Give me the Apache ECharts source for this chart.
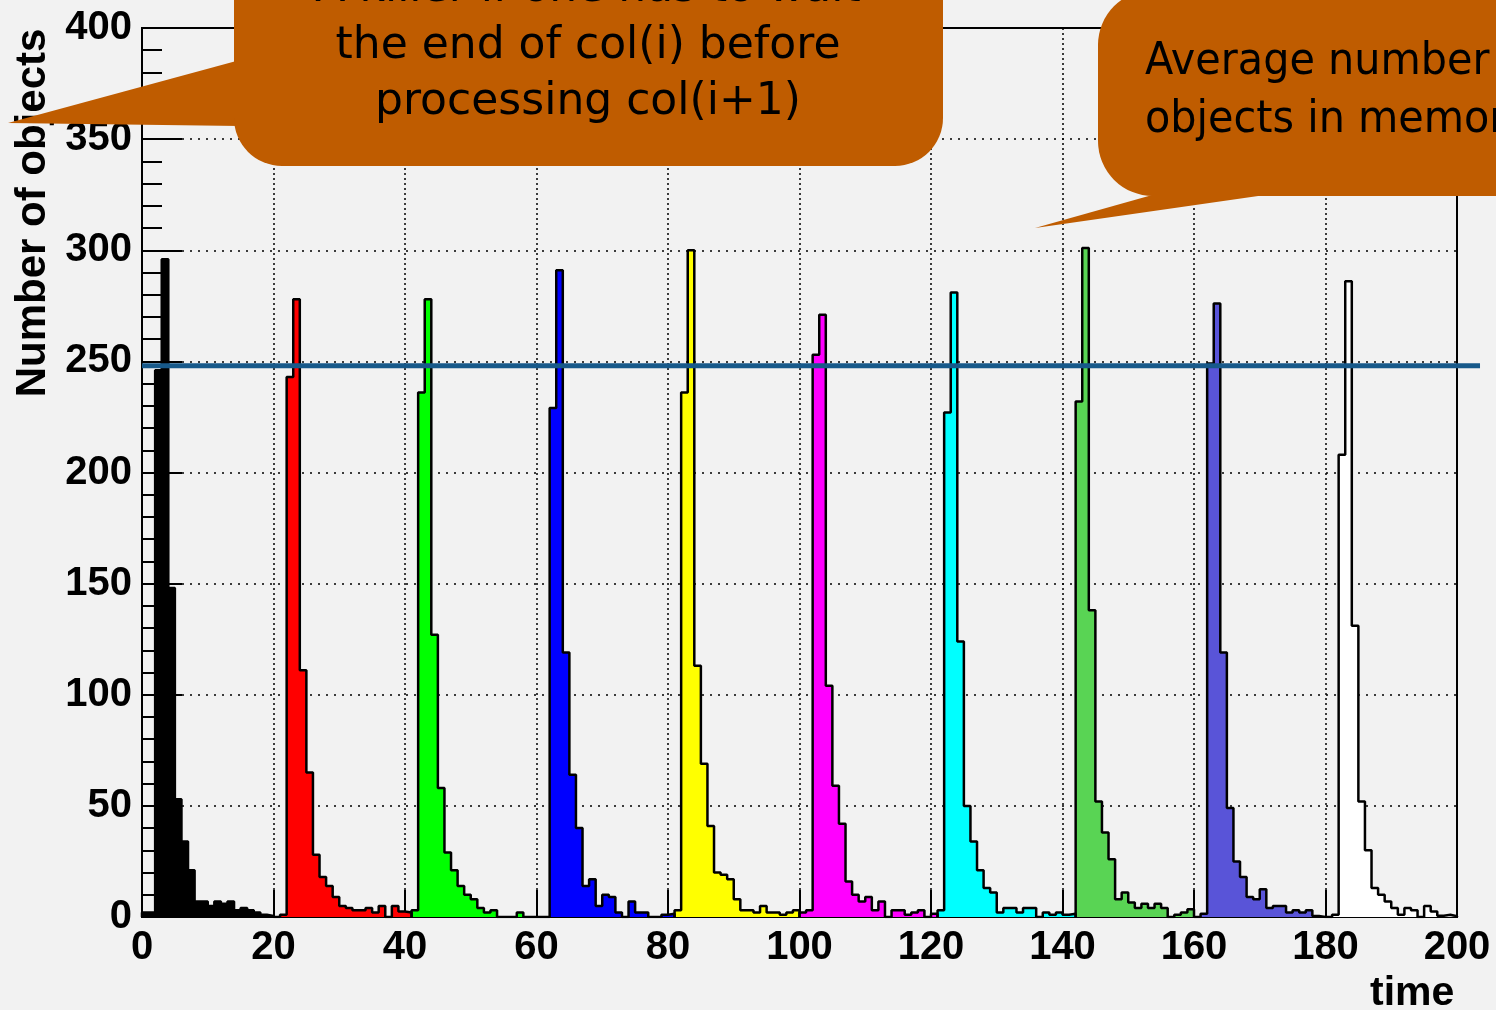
<!DOCTYPE html>
<html>
<head>
<meta charset="utf-8">
<script src="https://cdn.jsdelivr.net/npm/echarts@6/dist/echarts.min.js"></script>
<style>
html,body{margin:0;padding:0;background:#f2f2f2;}
#chart{width:1496px;height:1010px;}
</style>
</head>
<body>
<div id="chart"></div>
<script>
// ---- data ----
const xTicks = [0, 20, 40, 60, 80, 100, 120, 140, 160, 180, 200];
const yTicks = [0, 50, 100, 150, 200, 250, 300, 350, 400];
const averageLevel = 248;
const averageLineEnd = 203.5;

const seriesNames = ['col0', 'col1', 'col2', 'col3', 'col4', 'col5', 'col6', 'col7', 'col8', 'col9'];
const binStarts = [0, 20, 41, 60, 81, 100, 121, 142, 160, 180];

const blackCounts   = [2, 2, 246, 296, 148, 53, 34, 21, 7, 7, 5, 7, 6, 7, 3, 4, 3, 2, 1, 0.5];
const redCounts     = [0, 1, 243, 278, 111, 65, 28, 18, 14, 9, 5, 4, 3, 3, 4, 2, 5, 0, 5, 2.5, 2];
const greenCounts   = [3, 236, 278, 127, 58, 29, 21, 14, 10, 8, 4, 2, 3, 0, 0, 0, 2, 0, 0];
const blueCounts    = [0, 0, 229, 291, 119, 64, 40, 14, 17, 5, 10, 9, 2, 0, 7, 2, 2, 0, 0, 1, 1.5];
const yellowCounts  = [3, 236, 300, 113, 69, 41, 20, 19, 17, 8, 3, 3, 2, 5, 2, 2, 1, 2, 3];
const magentaCounts = [2, 3, 253, 271, 104, 59, 42, 16, 10, 7, 9, 3, 7, 0, 3, 3, 1, 2, 3, 0, 1.5];
const cyanCounts    = [3, 227, 281, 124, 50, 34, 21, 13, 11, 2, 4, 4, 2, 4, 4, 0, 2, 1, 2, 1, 1.5];
const green2Counts  = [232, 301, 138, 52, 38, 26, 8, 11, 6.5, 4, 6, 4, 6, 4, 0, 1, 2, 3.5];
const purpleCounts  = [0, 1.5, 249, 276, 119, 49, 25, 18, 9, 8, 12.5, 4, 5, 5, 2, 3, 2, 3, 0.5, 0];
const whiteCounts   = [0, 1, 208, 286, 131, 52, 30, 13, 10, 7, 4, 1, 4, 3, 0, 5, 2.5, 0.6, 1, 0.4];

const allCounts = [blackCounts, redCounts, greenCounts, blueCounts, yellowCounts,
                   magentaCounts, cyanCounts, green2Counts, purpleCounts, whiteCounts];
const fillColors = ['#000000', '#ff0000', '#00ff00', '#0000ff', '#ffff00',
                    '#ff00ff', '#00ffff', '#59d454', '#5954d8', '#ffffff'];

const calloutLeft = ['A killer if one has to wait', 'the end of col(i) before', 'processing col(i+1)'];
const calloutRight = ['Average number of', 'objects in memory'];

// ---- build histogram step outlines (bin width 1) ----
function histPoints(start, counts) {
  const pts = [[start, 0]];
  counts.forEach((v, i) => pts.push([start + i, v]));
  pts.push([start + counts.length, 0]);
  return pts;
}

const chart = echarts.init(document.getElementById('chart'), null, {renderer: 'canvas'});

const series = allCounts.map((counts, i) => ({
  name: seriesNames[i],
  type: 'line',
  step: 'end',
  data: histPoints(binStarts[i], counts),
  showSymbol: false,
  symbol: 'none',
  lineStyle: {color: '#000', width: 2.5},
  areaStyle: {color: fillColors[i], opacity: 1},
  animation: false,
  z: 3
}));

const labelFont = {fontFamily: 'Liberation Sans', fontWeight: 'bold', fontSize: 40, color: '#000'};

chart.setOption({
  backgroundColor: '#f2f2f2',
  animation: false,
  grid: {left: 142, right: 39, top: 28, bottom: 93, show: true, borderColor: '#000', borderWidth: 2, backgroundColor: 'transparent'},
  xAxis: {
    type: 'value', min: xTicks[0], max: xTicks[xTicks.length - 1], interval: 20,
    axisLine: {show: true, onZero: false, lineStyle: {color: '#000', width: 2}},
    axisTick: {show: true, inside: true, length: 27, lineStyle: {color: '#000', width: 2}},
    axisLabel: Object.assign({margin: 11, showMinLabel: true, showMaxLabel: true}, labelFont),
    splitLine: {show: true, lineStyle: {color: '#000', width: 1.5, type: [2, 3]}}
  },
  yAxis: {
    type: 'value', min: yTicks[0], max: yTicks[yTicks.length - 1], interval: 50,
    axisLine: {show: true, onZero: false, lineStyle: {color: '#000', width: 2}},
    axisTick: {show: true, inside: true, length: 40, lineStyle: {color: '#000', width: 2}},
    minorTick: {show: true, splitNumber: 5, length: 20, lineStyle: {color: '#000', width: 2}},
    axisLabel: Object.assign({margin: 10}, labelFont),
    splitLine: {show: true, lineStyle: {color: '#000', width: 1.5, type: [2, 6]}}
  },
  series: series
});

// average line, positioned through the chart's own scales
const p0 = chart.convertToPixel({gridIndex: 0}, [0, averageLevel]);
const p1 = chart.convertToPixel({gridIndex: 0}, [averageLineEnd, averageLevel]);

const bubbleColor = '#bf5c00';
const bubbleFont = 'DejaVu Sans';

chart.setOption({
  graphic: [
    {type: 'line', shape: {x1: p0[0], y1: p0[1], x2: p1[0], y2: p1[1]},
     style: {stroke: '#17598a', lineWidth: 5}, z: 50},
    {type: 'text', left: 1370, top: 973, style: {text: 'time', font: 'bold 41px "Liberation Sans"', fill: '#000'}, z: 50},
    {type: 'text', x: 33, y: 213, rotation: Math.PI / 2,
     style: {text: 'Number of objects', font: 'bold 42px "Liberation Sans"', fill: '#000', align: 'center', verticalAlign: 'middle'}, z: 50},
    // left callout
    {type: 'polygon', shape: {points: [[8, 123], [240, 60], [240, 126]]}, style: {fill: bubbleColor}, z: 60},
    {type: 'rect', shape: {x: 234, y: -60, width: 709, height: 226, r: 48}, style: {fill: bubbleColor}, z: 60},
    {type: 'text', x: 588, y: -10, style: {text: calloutLeft[0], font: '44px "' + bubbleFont + '"', fill: '#000', align: 'center', verticalAlign: 'middle'}, z: 61},
    {type: 'text', x: 588, y: 47, style: {text: calloutLeft[1], font: '44px "' + bubbleFont + '"', fill: '#000', align: 'center', verticalAlign: 'middle'}, z: 61},
    {type: 'text', x: 588, y: 103, style: {text: calloutLeft[2], font: '44px "' + bubbleFont + '"', fill: '#000', align: 'center', verticalAlign: 'middle'}, z: 61},
    // right callout
    {type: 'polygon', shape: {points: [[1035, 228], [1170, 190], [1300, 190]]}, style: {fill: bubbleColor}, z: 60},
    {type: 'rect', shape: {x: 1098, y: -10, width: 460, height: 206, r: 55}, style: {fill: bubbleColor}, z: 60},
    {type: 'text', x: 1145, y: 63, scaleX: 0.94, style: {text: calloutRight[0], font: '44px "' + bubbleFont + '"', fill: '#000', align: 'left', verticalAlign: 'middle'}, z: 61},
    {type: 'text', x: 1145, y: 121, scaleX: 0.94, style: {text: calloutRight[1], font: '44px "' + bubbleFont + '"', fill: '#000', align: 'left', verticalAlign: 'middle'}, z: 61}
  ]
});
</script>
</body>
</html>
